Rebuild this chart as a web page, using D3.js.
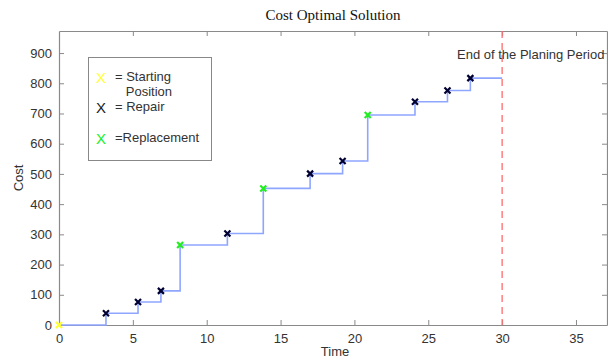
<!DOCTYPE html>
<html><head><meta charset="utf-8">
<script src="https://cdn.jsdelivr.net/npm/d3@7"></script>
<style>body{margin:0;background:#fff}svg{display:block}</style>
</head><body>
<svg id="c" width="608" height="360"></svg>
<script>
const startPoint = [{t: 0, cost: 0}];
const repairTimes = [3.18, 5.35, 6.9, 11.4, 17.0, 19.2, 24.1, 26.3, 27.85];
const repairCosts = [39, 76, 113, 303, 501, 543, 739, 776, 817];
const replaceTimes = [8.2, 13.83, 20.9];
const replaceCosts = [265, 452, 695];
const endTime = 30;
const xTicks = [0, 5, 10, 15, 20, 25, 30, 35];
const yTicks = [0, 100, 200, 300, 400, 500, 600, 700, 800, 900];

const svg = d3.select("#c");
const x = d3.scaleLinear().domain([0, 37.1]).range([59, 607]);
const y = d3.scaleLinear().domain([0, 973]).range([325, 31]);

const repairs = repairTimes.map((t, i) => ({t, cost: repairCosts[i], kind: "repair"}));
const replaces = replaceTimes.map((t, i) => ({t, cost: replaceCosts[i], kind: "replace"}));
const events = startPoint.map(d => ({...d, kind: "start"})).concat(repairs, replaces).sort((a, b) => a.t - b.t);
const pathPts = events.concat([{t: endTime, cost: events[events.length - 1].cost}]);

const axisCol = "#8a8a8a";
const textCol = "#333";
const font = "Arial, 'Liberation Sans', sans-serif";

// frame axes
const gB = svg.append("g").attr("transform", `translate(0,${y(0)})`)
  .call(d3.axisBottom(x).tickValues(xTicks).tickSize(-5).tickPadding(9).tickSizeOuter(0));
const gT = svg.append("g").attr("transform", `translate(0,${y.range()[1]})`)
  .call(d3.axisTop(x).tickValues(xTicks).tickSize(-5).tickFormat("").tickSizeOuter(0));
const gL = svg.append("g").attr("transform", `translate(${x(0)},0)`)
  .call(d3.axisLeft(y).tickValues(yTicks).tickSize(-5).tickPadding(7).tickSizeOuter(0));
const gR = svg.append("g").attr("transform", `translate(${x.range()[1]},0)`)
  .call(d3.axisRight(y).tickValues(yTicks).tickSize(-5).tickFormat("").tickSizeOuter(0));
[gB, gT, gL, gR].forEach(g => {
  g.select(".domain").attr("stroke", axisCol).attr("stroke-width", 1.2);
  g.selectAll(".tick line").attr("stroke", axisCol);
  g.selectAll("text").attr("fill", textCol).style("font-family", font).style("font-size", "13px");
});
gT.selectAll(".tick").filter(d => d === 0).remove();
gB.selectAll(".tick line").filter(d => d === 0).remove();

// step line
const line = d3.line().x(d => x(d.t)).y(d => y(d.cost)).curve(d3.curveStepAfter);
svg.append("path").datum(pathPts).attr("d", line)
  .attr("fill", "none").attr("stroke", "#8fa6ff").attr("stroke-width", 1.6);

// end of period line
svg.append("line").attr("x1", x(endTime)).attr("x2", x(endTime))
  .attr("y1", y.range()[1]).attr("y2", y(0))
  .attr("stroke", "#ff6b6b").attr("stroke-width", 1.3).attr("stroke-dasharray", "7,5");

// markers
const colorOf = {start: "#ffff33", repair: "#000033", replace: "#22ee22"};
const xMark = (sel, s) => sel.attr("d", `M${-s},${-s}L${s},${s}M${-s},${s}L${s},${-s}`);
svg.append("g").selectAll("path").data(events).join("path")
  .attr("transform", d => `translate(${x(d.t)},${y(d.cost)})`)
  .call(xMark, 3)
  .attr("fill", "none").attr("stroke", d => colorOf[d.kind]).attr("stroke-width", 2.2);

// labels
svg.append("text").attr("x", 333).attr("y", 20).attr("text-anchor", "middle")
  .style("font-family", "'Liberation Serif', 'Times New Roman', serif").style("font-size", "15px")
  .attr("fill", "#111").text("Cost Optimal Solution");
svg.append("text").attr("x", 335).attr("y", 356).attr("text-anchor", "middle")
  .style("font-family", font).style("font-size", "13px").attr("fill", textCol).text("Time");
svg.append("text").attr("transform", "translate(23,178) rotate(-90)").attr("text-anchor", "middle")
  .style("font-family", font).style("font-size", "13px").attr("fill", textCol).text("Cost");
svg.append("text").attr("x", 457).attr("y", 59)
  .style("font-family", font).style("font-size", "13px").attr("fill", textCol).text("End of the Planing Period");

// legend
const lg = svg.append("g");
lg.append("rect").attr("x", 88.5).attr("y", 57.5).attr("width", 123).attr("height", 103)
  .attr("fill", "#fff").attr("stroke", "#888").attr("stroke-width", 1);
const legItems = [
  {kind: "start", y: 78, lines: ["= Starting", "   Position"]},
  {kind: "repair", y: 108, lines: ["= Repair"]},
  {kind: "replace", y: 139, lines: ["=Replacement"]}
];
legItems.forEach(it => {
  lg.append("text").attr("x", 101).attr("y", it.y + 5).attr("text-anchor", "middle")
    .style("font-family", font).style("font-size", "15px")
    .attr("fill", it.kind === "repair" ? "#222" : colorOf[it.kind]).text("X");
  it.lines.forEach((l, j) => {
    lg.append("text").attr("x", 115).attr("y", it.y + 3 + j * 14.5)
      .style("font-family", font).style("font-size", "13px").style("white-space", "pre")
      .attr("xml:space", "preserve").attr("fill", textCol).text(l);
  });
});
</script>
</body></html>
